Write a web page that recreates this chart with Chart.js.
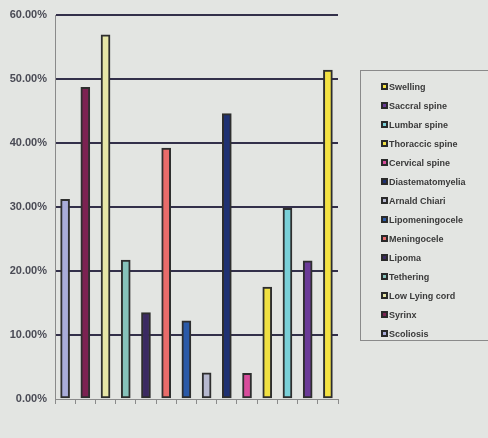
<!DOCTYPE html>
<html><head><meta charset="utf-8">
<script src="https://cdn.jsdelivr.net/npm/chart.js@4/dist/chart.umd.min.js"></script>
<style>
html,body{margin:0;padding:0;background:#e3e5e2;}
#wrap{position:relative;width:488px;height:438px;overflow:hidden;}
#c{position:absolute;left:0;top:0;}
#legend{position:absolute;left:360px;top:70px;width:140px;height:271px;border:1px solid #8a8a8a;box-sizing:border-box;font:bold 9px "Liberation Sans",Arial,sans-serif;color:#3a3a3a;}
.item{position:absolute;left:20px;height:12px;line-height:12px;white-space:nowrap;}
.sw{display:inline-block;width:3px;height:3px;border:2px solid #2a2a2a;margin-right:1px;vertical-align:0px;}
</style></head>
<body><div id="wrap"><canvas id="c" width="488" height="438"></canvas><div id="legend"></div></div>
<script>
const categories = ["Scoliosis","Syrinx","Low Lying cord","Tethering","Lipoma","Meningocele","Lipomeningocele","Arnald Chiari","Diastematomyelia","Cervical spine","Thoraccic spine","Lumbar spine","Saccral spine","Swelling"];
const values = [31.2, 48.7, 56.9, 21.7, 13.5, 39.2, 12.2, 4.1, 44.6, 4.0, 17.5, 29.8, 21.6, 51.4];
const colors = ["#a9acd9","#7c2252","#e6e6a6","#86c2ba","#3b2a62","#e86c6a","#2b5aa8","#b6b8cf","#1f3172","#d84c9c","#f0e042","#7ad0d8","#6b3b98","#f4e242"];
const yTicks = [0,10,20,30,40,50,60];

const legend = document.getElementById('legend');
const order = categories.map((c,i)=>i).reverse();
order.forEach((idx,k)=>{
  const d=document.createElement('div');d.className='item';
  d.style.top=(10+k*19)+'px';
  d.innerHTML='<span class="sw" style="background:'+colors[idx]+'"></span>'+categories[idx];
  legend.appendChild(d);
});

new Chart(document.getElementById('c'),{
  type:'bar',
  data:{labels:categories,datasets:[{data:values,backgroundColor:colors,borderColor:'#2e2e2e',borderWidth:2,barThickness:9,borderSkipped:false}]},
  options:{
    responsive:false,animation:false,
    layout:{padding:{left:0,right:150,top:15,bottom:0}},
    plugins:{legend:{display:false},tooltip:{enabled:false}},
    scales:{
      x:{
        grid:{offset:true,drawOnChartArea:false,drawTicks:true,tickLength:5,color:'#8a8a8a'},
        border:{color:'#8a8a8a',width:1},
        ticks:{display:false},
        afterFit:s=>{s.height=39;}
      },
      y:{
        min:0,max:60,
        afterBuildTicks:s=>{s.ticks=yTicks.map(v=>({value:v}));},
        grid:{color:ctx=>ctx.tick&&ctx.tick.value===0?'rgba(0,0,0,0)':'#33304a',lineWidth:2,drawTicks:false},
        border:{color:'#8a8a8a',width:1},
        ticks:{padding:8,color:'#4a4b55',font:{family:'"Liberation Sans", Arial',size:11,weight:'bold'},callback:v=>v.toFixed(2)+'%'},
        afterFit:s=>{s.width=55;}
      }
    }
  }
});
</script></body></html>
